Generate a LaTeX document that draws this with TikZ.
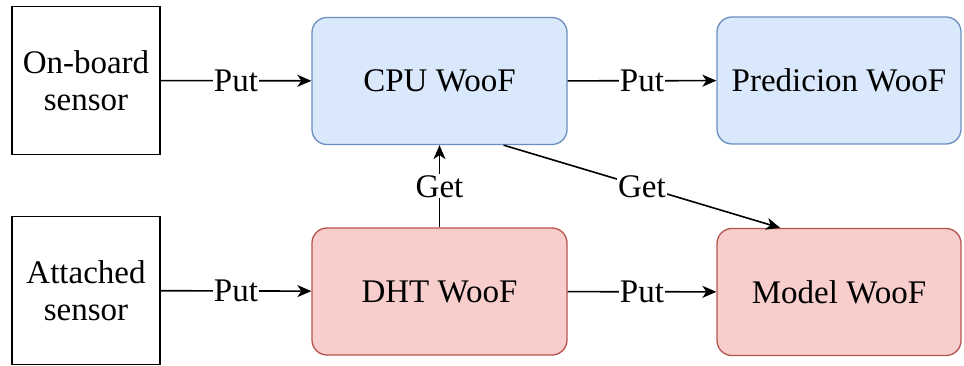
\documentclass[tikz,border=0pt]{standalone}
\usepackage{fontspec}
\setmainfont{LiberationSerif}[Extension=.ttf, UprightFont=*-Regular, BoldFont=*-Bold]
\usepackage{tikz}
\usetikzlibrary{arrows.meta, positioning, calc}
\definecolor{woofblue}{HTML}{DAE8FC}
\definecolor{woofblueline}{HTML}{6C8EBF}
\definecolor{woofred}{HTML}{F8CECC}
\definecolor{woofredline}{HTML}{B85450}
\tikzstyle{sensor} = [draw=black, line width=1.3pt, fill=white, minimum width=148pt, minimum height=148pt, align=center, inner sep=0pt]
\tikzstyle{cpuwoof} = [draw=woofblueline, line width=1.3pt, fill=woofblue, rounded corners=15pt, minimum height=127pt, inner sep=0pt]
\tikzstyle{dhtwoof} = [draw=woofredline, line width=1.3pt, fill=woofred, rounded corners=15pt, minimum height=127pt, inner sep=0pt]
\tikzstyle{arrow} = [line width=1.6pt, -{Stealth[length=14pt, width=12pt, inset=4pt]}]
\tikzstyle{lbl} = [fill=white, inner sep=1pt]

\begin{document}
\begin{tikzpicture}[x=1pt, y=-1pt, every node/.style={font=\fontsize{33}{37}\selectfont}]
    \useasboundingbox (0,0) rectangle (964,366);
    % sources
    \node[sensor] (onboard) at (86,80.5) {On-board\\sensor};
    \node[sensor] (attached) at (86,290.5) {Attached\\sensor};
    % woofs
    \node[cpuwoof, minimum width=255pt] (cpu) at (439.5,81) {CPU WooF};
    \node[cpuwoof, minimum width=244pt] (pred) at (839,80.5) {Predicion WooF};
    \node[dhtwoof, minimum width=255pt] (dht) at (439.5,291.5) {DHT WooF};
    \node[dhtwoof, minimum width=244pt] (model) at (839,292) {Model WooF};

    \draw[arrow] (onboard) -- node[lbl] {Put} (cpu);
    \draw[arrow] (cpu) -- node[lbl] {Put} (pred);
    \draw[arrow] (attached) -- node[lbl] {Put} (dht);
    \draw[arrow] (dht) -- node[lbl] {Put} (model);
    \draw[arrow] (dht) -- node[lbl] {Get} (cpu);
    \draw[arrow] ($(cpu.south west)!0.75!(cpu.south east)$) -- node[lbl] {Get} ($(model.north west)!0.26!(model.north east)$);
\end{tikzpicture}
\end{document}
